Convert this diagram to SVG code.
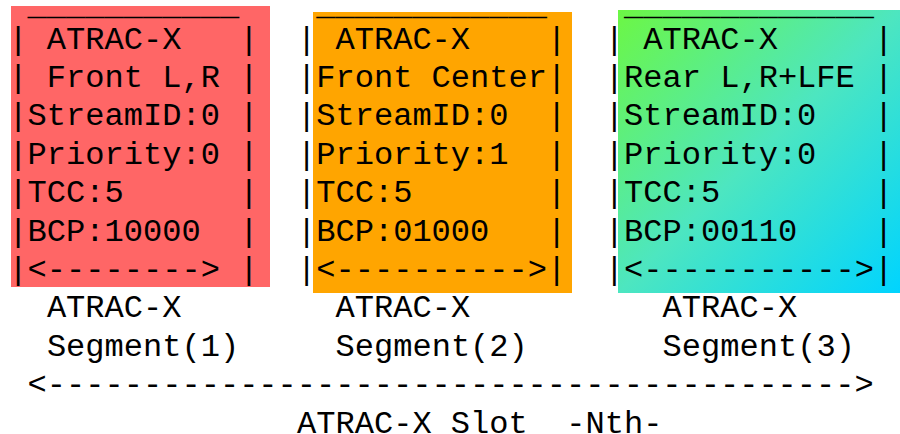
<svg xmlns="http://www.w3.org/2000/svg" width="900" height="434" viewBox="0 0 900 434" xml:space="preserve">
<style>
text{font-family:"Liberation Mono","Courier New",monospace;font-size:32.06px;fill:#000;white-space:pre}
</style>
<defs>
<linearGradient id="g3" x1="0" y1="0" x2="1" y2="1">
<stop offset="0" stop-color="#6cf744"/>
<stop offset="0.5" stop-color="#4de6c0"/>
<stop offset="1" stop-color="#00d4ff"/>
</linearGradient>
</defs>
<rect width="900" height="434" fill="#fff"/>
<g id="seg1">
<rect x="11" y="6" width="259" height="281" fill="#ff6666"/>
<text x="8.4" y="14.5"> ___________</text>
<text x="8.4" y="48.5">| ATRAC-X   |</text>
<text x="8.4" y="86.9">| Front L,R |</text>
<text x="8.4" y="125.3">|StreamID:0 |</text>
<text x="8.4" y="163.7">|Priority:0 |</text>
<text x="8.4" y="202.1">|TCC:5      |</text>
<text x="8.4" y="240.5">|BCP:10000  |</text>
<text x="8.4" y="278.9">|&lt;--------&gt; |</text>
<text x="46.9" y="317.3">ATRAC-X</text>
<text x="46.9" y="355.7">Segment(1)</text>
</g>
<g id="seg2">
<rect x="313" y="12" width="259" height="281" fill="#ffa500"/>
<text x="297" y="14.5"> ____________</text>
<text x="297" y="48.5">| ATRAC-X    |</text>
<text x="297" y="86.9">|Front Center|</text>
<text x="297" y="125.3">|StreamID:0  |</text>
<text x="297" y="163.7">|Priority:1  |</text>
<text x="297" y="202.1">|TCC:5       |</text>
<text x="297" y="240.5">|BCP:01000   |</text>
<text x="297" y="278.9">|&lt;----------&gt;|</text>
<text x="335.5" y="317.3">ATRAC-X</text>
<text x="335.5" y="355.7">Segment(2)</text>
</g>
<g id="seg3">
<rect x="618" y="10" width="282" height="283" fill="url(#g3)"/>
<text x="604.8" y="14.5"> _____________</text>
<text x="604.8" y="48.5">| ATRAC-X     |</text>
<text x="604.8" y="86.9">|Rear L,R+LFE |</text>
<text x="604.8" y="125.3">|StreamID:0   |</text>
<text x="604.8" y="163.7">|Priority:0   |</text>
<text x="604.8" y="202.1">|TCC:5        |</text>
<text x="604.8" y="240.5">|BCP:00110    |</text>
<text x="604.8" y="278.9">|&lt;-----------&gt;|</text>
<text x="662.6" y="317.3">ATRAC-X</text>
<text x="662.6" y="355.7">Segment(3)</text>
</g>
<g id="connectors">
<text x="27.6" y="394.1">&lt;------------------------------------------&gt;</text>
</g>
<g id="slot">
<text x="297" y="432.5">ATRAC-X Slot  -Nth-</text>
</g>
</svg>
